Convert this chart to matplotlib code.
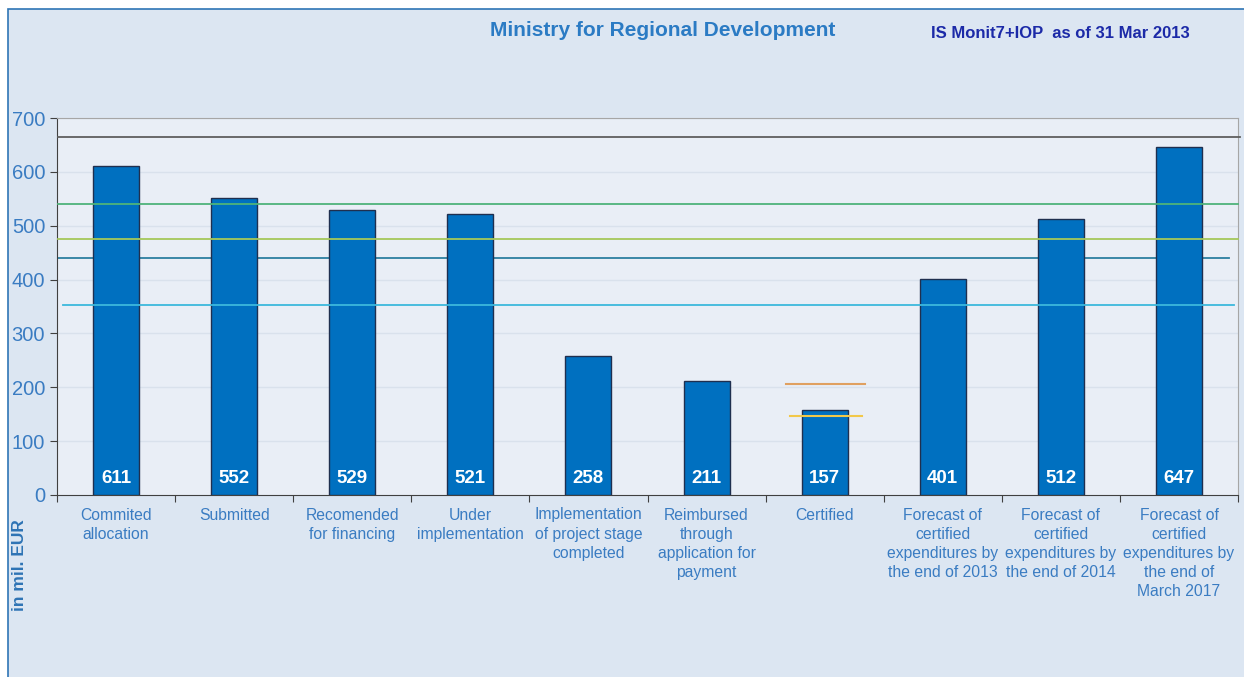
import matplotlib.pyplot as plt
from matplotlib.patches import Rectangle

# data
categories = ["Commited\nallocation", "Submitted", "Recomended\nfor financing",
              "Under\nimplementation", "Implementation\nof project stage\ncompleted",
              "Reimbursed\nthrough\napplication for\npayment", "Certified",
              "Forecast of\ncertified\nexpenditures by\nthe end of 2013",
              "Forecast of\ncertified\nexpenditures by\nthe end of 2014",
              "Forecast of\ncertified\nexpenditures by\nthe end of\nMarch 2017"]
values = [611, 552, 529, 521, 258, 211, 157, 401, 512, 647]

# reference levels
ref_values = [665, 540, 475, 440, 353]
ref_colors = ["#5f5f5f", "#4fb37a", "#a5c85a", "#2c7fa0", "#3cb8dc"]
ref_starts = [-0.49, -0.49, -0.49, -0.49, -0.45]
ref_ends = [9.52, 9.5, 9.5, 9.42, 9.47]
cert_values = [206, 147]
cert_colors = ["#e0a060", "#f2c84a"]

BLUE_TXT = "#3a7cc2"
plt.rcParams['font.family'] = ['Liberation Sans', 'DejaVu Sans']

fig = plt.figure(figsize=(12.44, 6.77), dpi=100, facecolor="white")
fig.patches.append(Rectangle((8 / 1244, -0.01), 1.0, 1 - 9 / 677 + 0.01,
                             transform=fig.transFigure, facecolor="#dce6f2",
                             edgecolor="#2f75b5", lw=1.2, zorder=-5))

ax = fig.add_axes([57 / 1244, 1 - 495 / 677, (1238 - 57) / 1244, (495 - 118) / 677])
ax.set_facecolor("#e9eef6")

x = list(range(len(values)))
ax.bar(x, values, width=0.39, color="#0070c0", edgecolor="#1f2f4f", lw=1, zorder=3)
for xi, v in zip(x, values):
    ax.text(xi, 31, str(v), ha="center", va="center", color="white",
            fontsize=13.5, fontweight="bold", zorder=5)

for v, c, s, e in zip(ref_values, ref_colors, ref_starts, ref_ends):
    z = 2 if v == 440 else 4
    ax.plot([s, e], [v, v], color=c, lw=1.3, zorder=z, clip_on=False)
ax.plot([5.67, 6.34], [cert_values[0]] * 2, color=cert_colors[0], lw=1.5, zorder=4)
ax.plot([5.71, 6.32], [cert_values[1]] * 2, color=cert_colors[1], lw=1.5, zorder=4)

ax.set_xlim(-0.5, 9.5)
ax.set_ylim(0, 700)
ax.set_yticks(range(0, 701, 100))
ax.tick_params(axis="y", labelsize=14.5, labelcolor=BLUE_TXT, direction="out", length=5,
               color="#404040")
for y in range(100, 701, 100):
    ax.axhline(y, color="#d9e1ec", lw=1, zorder=1)

ax.set_xticks([i - 0.5 for i in range(len(values) + 1)])
ax.set_xticklabels([])
ax.tick_params(axis="x", which="major", direction="out", length=5, color="#404040")
ax.set_xticks(x, minor=True)
ax.set_xticklabels(categories, minor=True, fontsize=11.3, color=BLUE_TXT, linespacing=1.34)
ax.tick_params(axis="x", which="minor", length=0, pad=9)

for side in ["left", "bottom"]:
    ax.spines[side].set_color("#404040")
for side in ["top", "right"]:
    ax.spines[side].set_color("#a6a6a6")

fig.text(663 / 1244, 1 - 30 / 677, "Ministry for Regional Development", ha="center",
         va="center", fontsize=15, fontweight="bold", color="#2b7bc4")
fig.text(1060 / 1244, 1 - 33 / 677, "IS Monit7+IOP  as of 31 Mar 2013", ha="center",
         va="center", fontsize=12, fontweight="bold", color="#1c2aa8")
fig.text(20 / 1244, 1 - 565 / 677, "in mil. EUR", rotation=90, ha="center", va="center",
         fontsize=12.5, fontweight="bold", color="#2e74b5")

fig.savefig("out.png", dpi=100, facecolor=fig.get_facecolor())
